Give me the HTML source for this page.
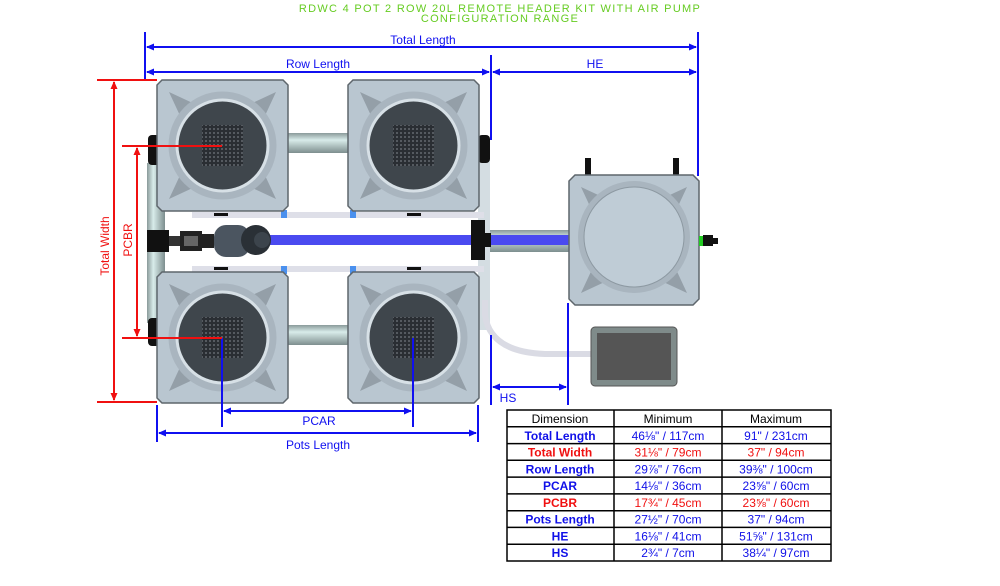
<!DOCTYPE html>
<html><head><meta charset="utf-8"><style>
html,body{margin:0;padding:0;background:#fff;}
svg{display:block;font-family:"Liberation Sans",sans-serif;}
</style></head><body>
<svg width="1000" height="586" viewBox="0 0 1000 586" xmlns="http://www.w3.org/2000/svg">
<defs>
<marker id="ab" markerWidth="8" markerHeight="8" refX="7" refY="4" orient="auto-start-reverse" markerUnits="userSpaceOnUse"><path d="M0,0.5 L8,4 L0,7.5z" fill="#1010f0"/></marker>
<marker id="ar" markerWidth="8" markerHeight="8" refX="7" refY="4" orient="auto-start-reverse" markerUnits="userSpaceOnUse"><path d="M0,0.5 L8,4 L0,7.5z" fill="#f01010"/></marker>
<linearGradient id="pipeH" x1="0" y1="0" x2="0" y2="1"><stop offset="0" stop-color="#8a9a9a"/><stop offset=".35" stop-color="#d8ecea"/><stop offset="1" stop-color="#7d8e8e"/></linearGradient>
<linearGradient id="pipeV" x1="0" y1="0" x2="1" y2="0"><stop offset="0" stop-color="#8a9a9a"/><stop offset=".35" stop-color="#d8ecea"/><stop offset="1" stop-color="#7d8e8e"/></linearGradient>
<pattern id="grid" width="4" height="4" patternUnits="userSpaceOnUse"><rect width="4" height="4" fill="#2a2e33"/><rect width="2" height="2" fill="#555a60"/></pattern>
<g id="pot">
<path d="M5,0 H126 L131,5 V126 L126,131 H5 L0,126 V5z" fill="#b9c6d0" stroke="#5e666c" stroke-width="1.5"/>
<path d="M12,12 L55,32 L32,55z M119,12 L76,32 L99,55z M12,119 L55,99 L32,76z M119,119 L76,99 L99,76z" fill="#949fa8"/>
<circle cx="65.5" cy="65.5" r="54" fill="#a9b5bf"/>
<circle cx="65.5" cy="65.5" r="47" fill="#d7e0e6"/>
<circle cx="65.5" cy="65.5" r="44" fill="#3f464c"/>
<rect x="45" y="45" width="41" height="41" fill="url(#grid)"/>
</g>
<g id="tank">
<path d="M6,0 H124 L130,6 V124 L124,130 H6 L0,124 V6z" fill="#b9c6d0" stroke="#5e666c" stroke-width="1.5"/>
<path d="M12,12 L55,32 L32,55z M118,12 L75,32 L98,55z M12,118 L55,98 L32,75z M118,118 L75,98 L98,75z" fill="#949fa8"/>
<circle cx="65" cy="62" r="56" fill="#a9b5bf"/>
<circle cx="65" cy="62" r="50" fill="#bfccd6" stroke="#8d99a2"/>
</g>
</defs>

<!-- title -->
<text x="500" y="12" text-anchor="middle" font-size="11" fill="#66cc22" letter-spacing="1.3">RDWC 4 POT 2 ROW 20L REMOTE HEADER KIT WITH AIR PUMP</text>
<text x="500" y="22" text-anchor="middle" font-size="11" fill="#66cc22" letter-spacing="1.3">CONFIGURATION RANGE</text>

<!-- pipes -->
<rect x="286" y="133" width="64" height="20" fill="url(#pipeH)"/>
<rect x="286" y="325" width="64" height="20" fill="url(#pipeH)"/>
<rect x="147" y="163" width="18" height="160" fill="url(#pipeV)"/>
<rect x="478" y="160" width="12" height="170" fill="#d4dde2"/>
<rect x="148" y="135" width="12" height="30" rx="4" fill="#111"/>
<rect x="148" y="318" width="12" height="28" rx="4" fill="#111"/>
<rect x="478" y="135" width="12" height="28" rx="4" fill="#111"/>
<!-- curved tube -->
<path d="M485,300 V315 Q490,352 545,354 H593" fill="none" stroke="#dadbe4" stroke-width="6"/>
<!-- air lines -->
<rect x="192" y="212" width="292" height="6" fill="#dedfe8"/>
<rect x="192" y="266" width="292" height="6" fill="#dedfe8"/>
<rect x="281" y="210" width="6" height="8" fill="#4a90ee"/><rect x="350" y="210" width="6" height="8" fill="#4a90ee"/>
<rect x="281" y="266" width="6" height="8" fill="#4a90ee"/><rect x="350" y="266" width="6" height="8" fill="#4a90ee"/>
<rect x="214" y="213" width="14" height="3" fill="#111"/><rect x="407" y="213" width="14" height="3" fill="#111"/>
<rect x="214" y="267" width="14" height="3" fill="#111"/><rect x="407" y="267" width="14" height="3" fill="#111"/>
<!-- header pipe -->
<rect x="490" y="230" width="80" height="22" fill="url(#pipeH)"/>
<!-- blue tube -->
<rect x="265" y="235" width="305" height="10" fill="#4a4af0"/>
<!-- tee -->
<rect x="471" y="220" width="14" height="40" fill="#111"/>
<rect x="483" y="233" width="8" height="14" fill="#111"/>
<!-- fitting & pump -->
<rect x="147" y="230" width="22" height="22" fill="#111"/>
<rect x="169" y="236" width="12" height="10" fill="#333"/>
<rect x="180" y="231" width="22" height="20" fill="#222"/>
<rect x="184" y="236" width="14" height="10" fill="#666"/>
<rect x="202" y="234" width="12" height="14" fill="#222"/>
<rect x="214" y="225" width="36" height="32" rx="12" fill="#4b5560"/>
<circle cx="256" cy="240" r="15" fill="#2a3036"/>
<circle cx="262" cy="240" r="8" fill="#3c444c"/>

<!-- pots -->
<use href="#pot" x="157" y="80"/>
<use href="#pot" x="348" y="80"/>
<use href="#pot" x="157" y="272"/>
<use href="#pot" x="348" y="272"/>

<!-- header tank -->
<rect x="585" y="158" width="6" height="18" fill="#111"/>
<rect x="673" y="158" width="6" height="18" fill="#111"/>
<use href="#tank" x="569" y="175"/>
<rect x="699" y="236" width="4" height="10" fill="#22cc22"/>
<rect x="703" y="235" width="10" height="11" fill="#111"/>
<rect x="713" y="238" width="5" height="6" fill="#111"/>

<!-- controller -->
<rect x="591" y="327" width="86" height="59" rx="4" fill="#7f8b8a" stroke="#555" />
<rect x="597" y="333" width="74" height="47" fill="#555"/>

<!-- dimension lines blue -->
<g stroke="#1010f0" stroke-width="2" fill="none">
<line x1="145" y1="32" x2="145" y2="80"/>
<line x1="698" y1="32" x2="698" y2="176"/>
<line x1="491" y1="55" x2="491" y2="140"/>
<line x1="147" y1="47" x2="696" y2="47" marker-start="url(#ab)" marker-end="url(#ab)"/>
<line x1="147" y1="72" x2="489" y2="72" marker-start="url(#ab)" marker-end="url(#ab)"/>
<line x1="493" y1="72" x2="696" y2="72" marker-start="url(#ab)" marker-end="url(#ab)"/>
<line x1="491" y1="335" x2="491" y2="405"/>
<line x1="568" y1="303" x2="568" y2="405"/>
<line x1="493" y1="387" x2="566" y2="387" marker-start="url(#ab)" marker-end="url(#ab)"/>
<line x1="222" y1="338" x2="222" y2="427"/>
<line x1="413" y1="338" x2="413" y2="427"/>
<line x1="224" y1="411" x2="411" y2="411" marker-start="url(#ab)" marker-end="url(#ab)"/>
<line x1="157" y1="405" x2="157" y2="442"/>
<line x1="478" y1="405" x2="478" y2="442"/>
<line x1="159" y1="433" x2="476" y2="433" marker-start="url(#ab)" marker-end="url(#ab)"/>
</g>
<!-- red -->
<g stroke="#f01010" stroke-width="2" fill="none">
<line x1="97" y1="80" x2="157" y2="80"/>
<line x1="97" y1="402" x2="157" y2="402"/>
<line x1="114" y1="82" x2="114" y2="400" marker-start="url(#ar)" marker-end="url(#ar)"/>
<line x1="122" y1="146" x2="222" y2="146"/>
<line x1="122" y1="338" x2="222" y2="338"/>
<line x1="137" y1="148" x2="137" y2="336" marker-start="url(#ar)" marker-end="url(#ar)"/>
</g>

<g font-size="12" fill="#1010f0" text-anchor="middle">
<text x="423" y="44">Total Length</text>
<text x="318" y="68">Row Length</text>
<text x="595" y="68">HE</text>
<text x="508" y="402">HS</text>
<text x="319" y="425">PCAR</text>
<text x="318" y="449">Pots Length</text>
</g>
<g font-size="12" fill="#f01010" text-anchor="middle">
<text transform="translate(109,246) rotate(-90)">Total Width</text>
<text transform="translate(132,240) rotate(-90)">PCBR</text>
</g>

<!-- table -->
<g stroke="#000" stroke-width="1.5" fill="none">
<rect x="507" y="410" width="324" height="151" fill="#fff"/>
<line x1="614" y1="410" x2="614" y2="561"/>
<line x1="722" y1="410" x2="722" y2="561"/>
<line x1="507" y1="426.8" x2="831" y2="426.8"/>
<line x1="507" y1="443.6" x2="831" y2="443.6"/>
<line x1="507" y1="460.3" x2="831" y2="460.3"/>
<line x1="507" y1="477.1" x2="831" y2="477.1"/>
<line x1="507" y1="493.9" x2="831" y2="493.9"/>
<line x1="507" y1="510.7" x2="831" y2="510.7"/>
<line x1="507" y1="527.4" x2="831" y2="527.4"/>
<line x1="507" y1="544.2" x2="831" y2="544.2"/>
</g>
<g font-size="12" text-anchor="middle">
<text x="560" y="423" fill="#000">Dimension</text><text x="668" y="423" fill="#000">Minimum</text><text x="776" y="423" fill="#000">Maximum</text>
<g fill="#1010e8"><text x="560" y="440" font-weight="bold">Total Length</text><text x="668" y="440">46⅛" / 117cm</text><text x="776" y="440">91" / 231cm</text></g>
<g fill="#f01010"><text x="560" y="456.5" font-weight="bold">Total Width</text><text x="668" y="456.5">31⅛" / 79cm</text><text x="776" y="456.5">37" / 94cm</text></g>
<g fill="#1010e8"><text x="560" y="473.3" font-weight="bold">Row Length</text><text x="668" y="473.3">29⅞" / 76cm</text><text x="776" y="473.3">39⅜" / 100cm</text></g>
<g fill="#1010e8"><text x="560" y="490" font-weight="bold">PCAR</text><text x="668" y="490">14⅛" / 36cm</text><text x="776" y="490">23⅝" / 60cm</text></g>
<g fill="#f01010"><text x="560" y="506.8" font-weight="bold">PCBR</text><text x="668" y="506.8">17¾" / 45cm</text><text x="776" y="506.8">23⅝" / 60cm</text></g>
<g fill="#1010e8"><text x="560" y="523.6" font-weight="bold">Pots Length</text><text x="668" y="523.6">27½" / 70cm</text><text x="776" y="523.6">37" / 94cm</text></g>
<g fill="#1010e8"><text x="560" y="540.3" font-weight="bold">HE</text><text x="668" y="540.3">16⅛" / 41cm</text><text x="776" y="540.3">51⅝" / 131cm</text></g>
<g fill="#1010e8"><text x="560" y="557.1" font-weight="bold">HS</text><text x="668" y="557.1">2¾" / 7cm</text><text x="776" y="557.1">38¼" / 97cm</text></g>
</g>
</svg>
</body></html>
